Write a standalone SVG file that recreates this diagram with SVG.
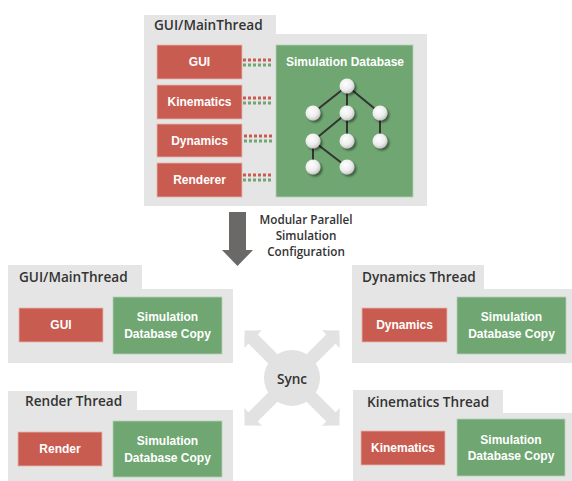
<svg xmlns="http://www.w3.org/2000/svg" width="572" height="481" viewBox="0 0 572 481">
  <defs>
    <radialGradient id="ball" cx="0.4" cy="0.35" r="0.7">
      <stop offset="0" stop-color="#ffffff"/>
      <stop offset="0.6" stop-color="#ececec"/>
      <stop offset="1" stop-color="#bdbdbd"/>
    </radialGradient>
    <filter id="shadow" x="-50%" y="-50%" width="200%" height="200%">
      <feGaussianBlur in="SourceAlpha" stdDeviation="1.2"/>
      <feOffset dx="1.5" dy="1.5"/>
      <feComponentTransfer><feFuncA type="linear" slope="0.45"/></feComponentTransfer>
      <feMerge><feMergeNode/><feMergeNode in="SourceGraphic"/></feMerge>
    </filter>
    <!-- one diagonal sync arrow, pointing along +x from the hub centre -->
    <polygon id="sync-arrow" points="0,-6.5 55,-6.5 55,-12.5 67,0 55,12.5 55,6.5 0,6.5"/>
  </defs>
  <style>
    .panel { fill: #e5e5e5; }
    .red { fill: #c95c50; stroke: #e9b5ae; stroke-width: 0.8; }
    .green { fill: #6fa672; stroke: #b6d3b7; stroke-width: 0.8; }
    .lbl { font-family: "Liberation Sans", Arial, sans-serif; font-weight: bold; font-size: 12px; fill: #ffffff; text-anchor: middle; }
    .title { font-family: "Open Sans", "Noto Sans", sans-serif; font-weight: 600; font-size: 13.6px; fill: #333333; }
    .cap { font-family: "Open Sans", "Noto Sans", sans-serif; font-weight: 600; font-size: 11.7px; fill: #333333; text-anchor: middle; }
    .dotr { stroke: #c95c50; stroke-width: 3; stroke-dasharray: 3 2; }
    .dotg { stroke: #6fa672; stroke-width: 3; stroke-dasharray: 3 2; }
    .edge { stroke: #333333; stroke-width: 2; }
    .sync { fill: #e2e2e2; }
  </style>

  <!-- Main thread with the shared simulation database -->
  <g id="main-thread">
    <rect class="panel" x="144" y="15" width="132" height="22"/>
    <rect class="panel" x="144" y="34" width="283" height="172"/>
    <text class="title" x="154" y="30" font-size="14">GUI/MainThread</text>
  </g>
  <g id="gui">
    <rect class="red" x="157" y="45" width="85" height="34"/>
    <text class="lbl" x="199.5" y="66">GUI</text>
  </g>
  <g id="kinematics">
    <rect class="red" x="157" y="85" width="85" height="34"/>
    <text class="lbl" x="199.5" y="106">Kinematics</text>
  </g>
  <g id="dynamics">
    <rect class="red" x="157" y="124" width="85" height="33"/>
    <text class="lbl" x="199.5" y="145">Dynamics</text>
  </g>
  <g id="renderer">
    <rect class="red" x="157" y="163" width="85" height="34"/>
    <text class="lbl" x="199.5" y="184">Renderer</text>
  </g>
  <g id="sim-db">
    <rect class="green" x="276" y="45" width="137" height="152"/>
    <text class="lbl" x="345" y="66" font-size="12.4">Simulation Database</text>
    <g id="tree">
      <line class="edge" x1="347" y1="86" x2="313" y2="113"/>
      <line class="edge" x1="347" y1="86" x2="347" y2="113"/>
      <line class="edge" x1="347" y1="86" x2="380" y2="113"/>
      <line class="edge" x1="347" y1="113" x2="313" y2="141"/>
      <line class="edge" x1="347" y1="113" x2="347" y2="141"/>
      <line class="edge" x1="380" y1="113" x2="380" y2="141"/>
      <line class="edge" x1="313" y1="141" x2="313" y2="167"/>
      <line class="edge" x1="313" y1="141" x2="347" y2="167"/>
      <g fill="url(#ball)" filter="url(#shadow)">
        <circle cx="347" cy="86" r="7.5"/>
        <circle cx="313" cy="113" r="7.5"/>
        <circle cx="347" cy="113" r="7.5"/>
        <circle cx="380" cy="113" r="7.5"/>
        <circle cx="313" cy="141" r="7.5"/>
        <circle cx="347" cy="141" r="7.5"/>
        <circle cx="380" cy="141" r="7.5"/>
        <circle cx="313" cy="167" r="7.5"/>
        <circle cx="347" cy="167" r="7.5"/>
      </g>
    </g>
  </g>

  <!-- Dotted links from modules to the database, and the transition arrows -->
  <g id="connectors">
    <line class="dotr" x1="243" y1="60" x2="272" y2="60"/>
    <line class="dotg" x1="243" y1="65" x2="272" y2="65"/>
    <line class="dotr" x1="243" y1="98" x2="272" y2="98"/>
    <line class="dotg" x1="243" y1="103" x2="272" y2="103"/>
    <line class="dotr" x1="244" y1="136" x2="274" y2="136"/>
    <line class="dotg" x1="244" y1="141" x2="274" y2="141"/>
    <line class="dotr" x1="243" y1="175" x2="272" y2="175"/>
    <line class="dotg" x1="243" y1="180" x2="272" y2="180"/>

    <polygon fill="#6b6868" points="229,212 246,212 246,250 253,250 237.5,266 222,250 229,250"/>

    <g id="sync-arrows" class="sync">
      <use href="#sync-arrow" transform="translate(292 378) rotate(-135)"/>
      <use href="#sync-arrow" transform="translate(292 378) rotate(-45)"/>
      <use href="#sync-arrow" transform="translate(292 378) rotate(45)"/>
      <use href="#sync-arrow" transform="translate(292 378) rotate(135)"/>
    </g>
  </g>

  <g id="config-label">
    <text class="cap" x="306" y="224">Modular Parallel</text>
    <text class="cap" x="306" y="240">Simulation</text>
    <text class="cap" x="306" y="256">Configuration</text>
  </g>

  <g id="sync">
    <circle class="sync" cx="292" cy="378" r="28"/>
    <text class="title" x="292" y="384" text-anchor="middle" font-size="15.5">Sync</text>
  </g>

  <!-- Parallel thread configuration -->
  <g id="main-thread-2">
    <rect class="panel" x="8" y="265" width="134" height="26"/>
    <rect class="panel" x="8" y="289" width="225" height="74"/>
    <text class="title" x="19" y="282" font-size="14">GUI/MainThread</text>
    <rect class="red" x="19" y="308" width="84" height="34"/>
    <text class="lbl" x="61" y="329">GUI</text>
    <rect class="green" x="113" y="297" width="109" height="57"/>
    <text class="lbl" x="167.5" y="321">Simulation</text>
    <text class="lbl" x="167.5" y="338">Database Copy</text>
  </g>

  <g id="dynamics-thread">
    <rect class="panel" x="352" y="265" width="132" height="26"/>
    <rect class="panel" x="352" y="289" width="220" height="74"/>
    <text class="title" x="362" y="282">Dynamics Thread</text>
    <rect class="red" x="362" y="308" width="85" height="34"/>
    <text class="lbl" x="404.5" y="329">Dynamics</text>
    <rect class="green" x="457" y="297" width="109" height="57"/>
    <text class="lbl" x="511.5" y="321">Simulation</text>
    <text class="lbl" x="511.5" y="338">Database Copy</text>
  </g>

  <g id="render-thread">
    <rect class="panel" x="8" y="391" width="129" height="22"/>
    <rect class="panel" x="8" y="410" width="225" height="71"/>
    <text class="title" x="25" y="406">Render Thread</text>
    <rect class="red" x="18" y="432" width="84" height="34"/>
    <text class="lbl" x="60" y="453">Render</text>
    <rect class="green" x="113" y="421" width="109" height="56"/>
    <text class="lbl" x="167.5" y="445">Simulation</text>
    <text class="lbl" x="167.5" y="462">Database Copy</text>
  </g>

  <g id="kinematics-thread">
    <rect class="panel" x="353" y="390" width="150" height="25"/>
    <rect class="panel" x="353" y="413" width="219" height="68"/>
    <text class="title" x="367" y="407">Kinematics Thread</text>
    <rect class="red" x="361" y="431" width="84" height="34"/>
    <text class="lbl" x="403" y="452">Kinematics</text>
    <rect class="green" x="457" y="419" width="108" height="57"/>
    <text class="lbl" x="511" y="444" font-size="11">Simulation</text>
    <text class="lbl" x="511" y="460" font-size="11">Database Copy</text>
  </g>
</svg>
